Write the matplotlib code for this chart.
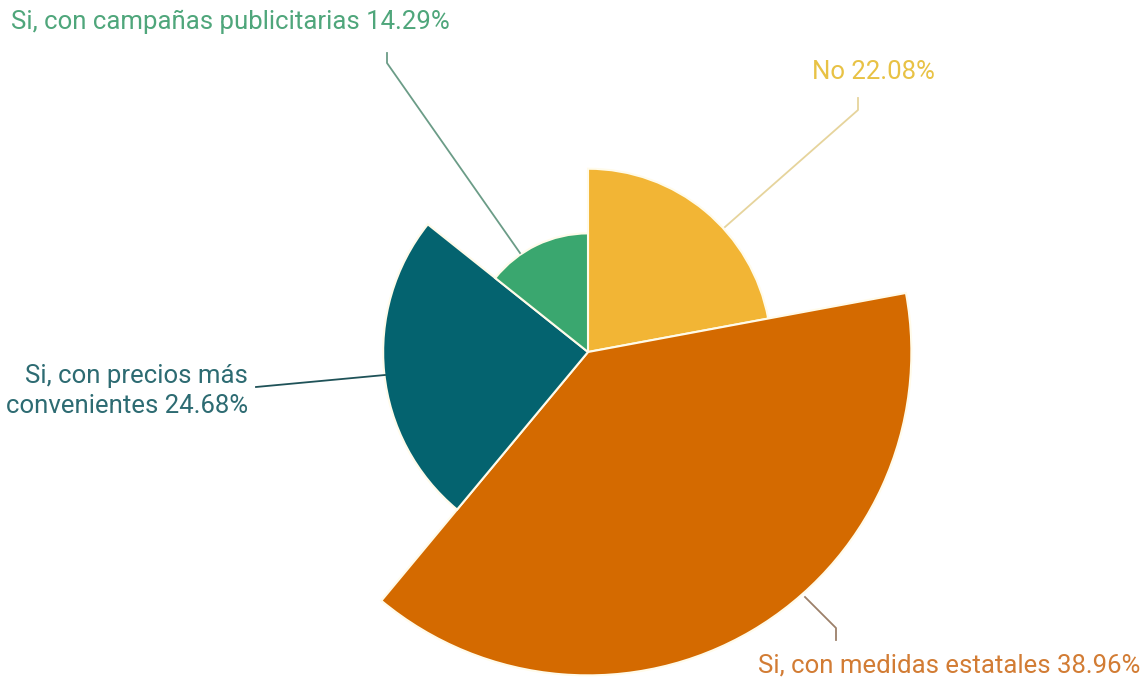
import matplotlib
matplotlib.use("Agg")
import matplotlib.pyplot as plt
import numpy as np

categories = ["No", "Si, con medidas estatales", "Si, con precios más\nconvenientes",
              "Si, con campañas publicitarias"]
values = [22.08, 38.96, 24.68, 14.29]
colors = ["#F2B535", "#D46A00", "#04636F", "#3AA76F"]
label_colors = ["#E8C245", "#D27C34", "#2D6B72", "#4FA67B"]
leader_colors = ["#E6D49C", "#9C806A", "#1F5258", "#6B9C87"]

W, H = 1146, 681
plt.rcParams['font.family'] = ['Roboto', 'DejaVu Sans']
fig = plt.figure(figsize=(W / 100, H / 100), dpi=100)
fig.patch.set_facecolor("white")

cx, cy = 588, 352
rmax = 40
rpx = 332
ax = fig.add_axes([(cx - rpx) / W, (H - cy - rpx) / H, 2 * rpx / W, 2 * rpx / H],
                  projection='polar')
ax.set_theta_offset(np.pi / 2)
ax.set_theta_direction(-1)
fr = np.array(values) / sum(values)
starts = np.concatenate([[0], np.cumsum(fr)[:-1]]) * 2 * np.pi
widths = fr * 2 * np.pi
ax.bar(starts, values, width=widths, align='edge', color=colors,
       edgecolor='#FFFBEA', linewidth=1.5)
ax.set_ylim(0, rmax)
ax.axis('off')

# overlay for labels (pixel coordinates, y down)
ov = fig.add_axes([0, 0, 1, 1], facecolor='none')
ov.set_xlim(0, W)
ov.set_ylim(H, 0)
ov.axis('off')

fs = 18.5
label_pos = [(812, 72, 'left'), (758, 665, 'left'), (248, 391, 'right'), (11, 22, 'left')]
leaders = [
    [(725, 227), (858, 110), (858, 98)],
    [(805, 597), (836, 628), (836, 640)],
    [(385, 375), (256, 387)],
    [(520, 253), (387, 63), (387, 53)],
]
for cat, v, lc, ldc, (x, y, ha), pts in zip(categories, values, label_colors,
                                            leader_colors, label_pos, leaders):
    ov.text(x, y, f"{cat} {v:.2f}%", color=lc, fontsize=fs, ha=ha, va='center',
            multialignment='right' if ha == 'right' else 'left', linespacing=1.3)
    xs, ys = zip(*pts)
    ov.plot(xs, ys, color=ldc, lw=1.3)

fig.savefig("out.png", dpi=100, facecolor="white")
